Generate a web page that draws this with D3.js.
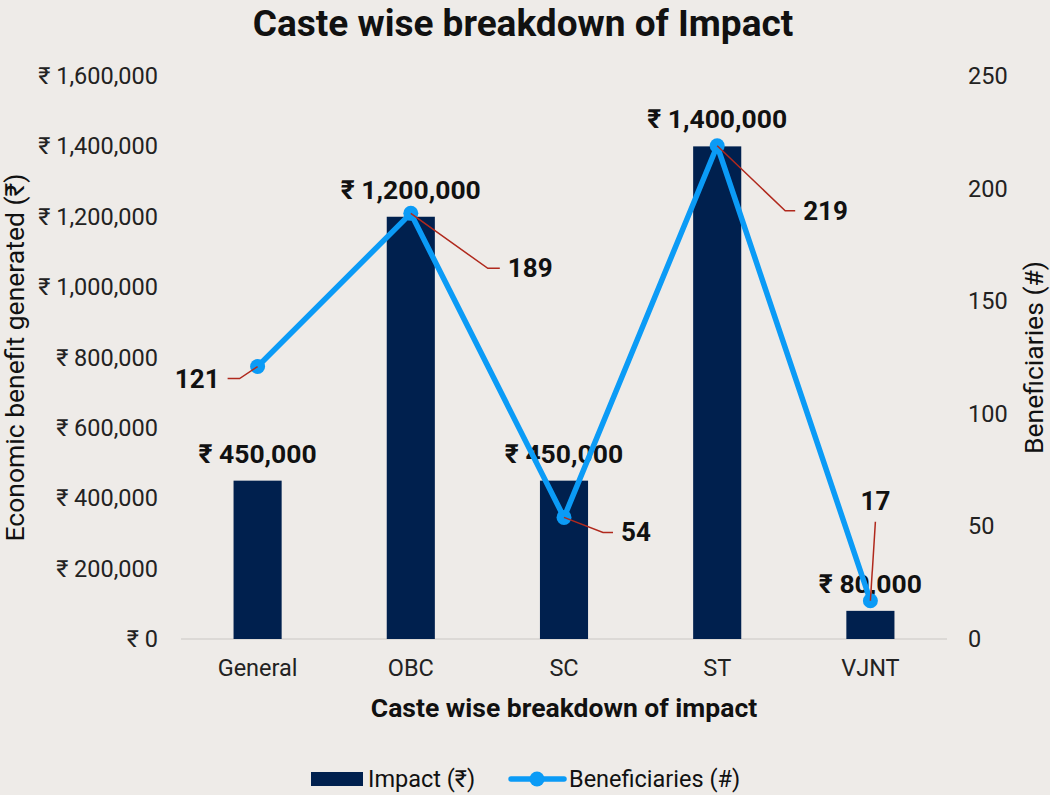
<!DOCTYPE html>
<html>
<head>
<meta charset="utf-8">
<script src="https://cdn.jsdelivr.net/npm/d3@7"></script>
<style>
  body { margin: 0; background: #eeebe8; }
  svg { font-family: Roboto, "Noto Sans", sans-serif; }
</style>
</head>
<body>
<svg id="chart" width="1050" height="795"></svg>
<script>
var categories = ["General", "OBC", "SC", "ST", "VJNT"];
var impact = [450000, 1200000, 450000, 1400000, 80000];
var beneficiaries = [121, 189, 54, 219, 17];
var leftTicks = [0, 200000, 400000, 600000, 800000, 1000000, 1200000, 1400000, 1600000];
var rightTicks = [0, 50, 100, 150, 200, 250];

// callout layout for beneficiary labels: elbow offset (dx, dy) from point, then label side
var callouts = [
  { ex: -18, ey: 12, hx: -30, anchor: "end" },
  { ex: 77, ey: 55, hx: 89, anchor: "start" },
  { ex: 39, ey: 15, hx: 49, anchor: "start" },
  { ex: 68, ey: 65, hx: 78, anchor: "start" },
  { ex: 5, ey: -79, hx: 5, anchor: "middle" }
];

var svg = d3.select("#chart"),
  margin = { left: 181, right: 103, top: 76, bottom: 156 },
  width = 1050 - margin.left - margin.right,
  height = 795 - margin.top - margin.bottom;

var g = svg.append("g").attr("transform", "translate(" + margin.left + "," + margin.top + ")");

var x = d3.scaleBand().domain(categories).range([0, width]).paddingInner(0.686).paddingOuter(0.343);
var xc = function (c) { return x(c) + x.bandwidth() / 2; };
var y = d3.scaleLinear().domain([0, 1600000]).range([height, 0]);
var y2 = d3.scaleLinear().domain([0, 250]).range([height, 0]);

var rupee = function (v) { return "\u20b9 " + d3.format(",")(v); };

// baseline
g.append("line").attr("x1", 0).attr("x2", width).attr("y1", height).attr("y2", height)
  .attr("stroke", "#d6d3d0").attr("stroke-width", 1.5);

// axes
var yAxis = g.append("g").call(d3.axisLeft(y).tickValues(leftTicks).tickFormat(rupee).tickSize(0).tickPadding(23));
var y2Axis = g.append("g").attr("transform", "translate(" + width + ",0)")
  .call(d3.axisRight(y2).tickValues(rightTicks).tickSize(0).tickPadding(21));
var xAxis = g.append("g").attr("transform", "translate(0," + height + ")")
  .call(d3.axisBottom(x).tickSize(0).tickPadding(20));

[yAxis, y2Axis, xAxis].forEach(function (a) {
  a.select(".domain").remove();
  a.attr("font-size", 23.5).attr("font-family", "Roboto");
  a.selectAll("text").attr("fill", "#222");
});

// bars
g.selectAll(".bar").data(impact).enter().append("rect")
  .attr("x", function (d, i) { return x(categories[i]); })
  .attr("y", function (d) { return y(d); })
  .attr("width", x.bandwidth())
  .attr("height", function (d) { return height - y(d); })
  .attr("fill", "#00204e");

// bar labels
g.selectAll(".blabel").data(impact).enter().append("text")
  .attr("x", function (d, i) { return xc(categories[i]); })
  .attr("y", function (d) { return y(d) - 18; })
  .attr("text-anchor", "middle")
  .attr("font-size", 26.5).attr("font-weight", "bold").attr("fill", "#111")
  .text(rupee);

// line
var line = d3.line()
  .x(function (d, i) { return xc(categories[i]); })
  .y(function (d) { return y2(d); });
g.append("path").datum(beneficiaries).attr("d", line)
  .attr("fill", "none").attr("stroke", "#0b9bf6").attr("stroke-width", 5.5).attr("stroke-linejoin", "round");
g.selectAll(".dot").data(beneficiaries).enter().append("circle")
  .attr("cx", function (d, i) { return xc(categories[i]); })
  .attr("cy", function (d) { return y2(d); })
  .attr("r", 7.5).attr("fill", "#0b9bf6");

// callouts
beneficiaries.forEach(function (d, i) {
  var px = xc(categories[i]), py = y2(d), c = callouts[i];
  g.append("polyline")
    .attr("points", [[px, py], [px + c.ex, py + c.ey], [px + c.hx, py + c.ey]].join(" "))
    .attr("fill", "none").attr("stroke", "#b0291d").attr("stroke-width", 1.5);
  var tx = c.anchor === "end" ? px + c.hx - 8 : c.anchor === "start" ? px + c.hx + 8 : px + c.hx;
  var ty = c.anchor === "middle" ? py + c.ey - 12 : py + c.ey + 9;
  g.append("text").attr("x", tx).attr("y", ty).attr("text-anchor", c.anchor)
    .attr("font-size", 26).attr("font-weight", "bold").attr("fill", "#111").text(d);
});

// titles
svg.append("text").attr("x", 523).attr("y", 36).attr("text-anchor", "middle")
  .attr("font-size", 37).attr("font-weight", "bold").attr("fill", "#111")
  .text("Caste wise breakdown of Impact");
svg.append("text").attr("x", margin.left + width / 2).attr("y", 717).attr("text-anchor", "middle")
  .attr("font-size", 26.5).attr("font-weight", "bold").attr("fill", "#111")
  .text("Caste wise breakdown of impact");
svg.append("text").attr("transform", "translate(24," + (margin.top + height / 2) + ") rotate(-90)")
  .attr("text-anchor", "middle").attr("font-size", 26.5).attr("fill", "#111")
  .text("Economic benefit generated (\u20b9)");
svg.append("text").attr("transform", "translate(1043," + (margin.top + height / 2) + ") rotate(-90)")
  .attr("text-anchor", "middle").attr("font-size", 26.5).attr("fill", "#111")
  .text("Beneficiaries (#)");

// legend
var lg = svg.append("g");
lg.append("rect").attr("x", 311).attr("y", 772).attr("width", 52).attr("height", 14).attr("fill", "#00204e");
lg.append("text").attr("x", 368).attr("y", 787).attr("font-size", 23.5).attr("fill", "#111").text("Impact (\u20b9)");
lg.append("line").attr("x1", 511).attr("x2", 564).attr("y1", 779).attr("y2", 779)
  .attr("stroke", "#0b9bf6").attr("stroke-width", 5.5).attr("stroke-linecap", "round");
lg.append("circle").attr("cx", 537).attr("cy", 779).attr("r", 7.5).attr("fill", "#0b9bf6");
lg.append("text").attr("x", 569).attr("y", 787).attr("font-size", 23.5).attr("fill", "#111").text("Beneficiaries (#)");
</script>
</body>
</html>
